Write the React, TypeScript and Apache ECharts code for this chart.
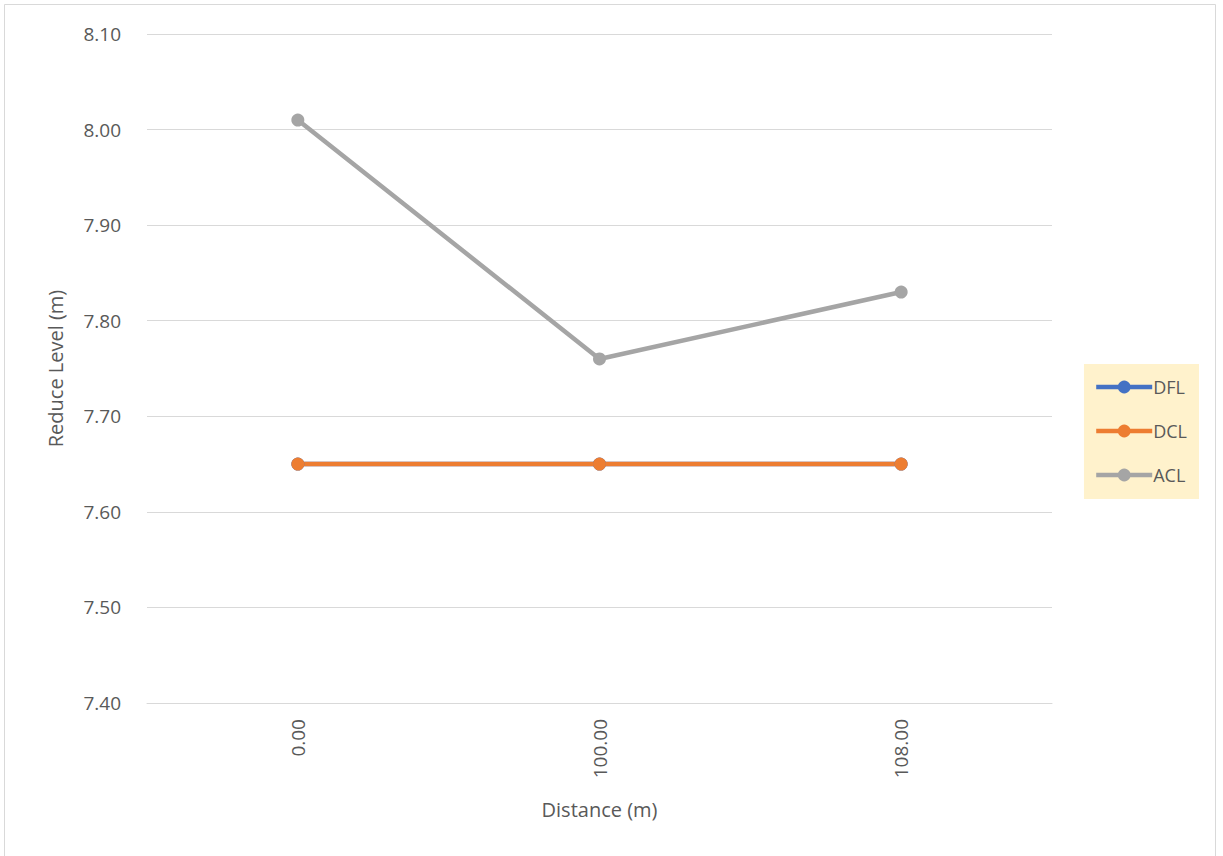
import React, { useEffect, useRef } from "react";
import * as echarts from "echarts";

const categories = ["0.00", "100.00", "108.00"];
const dfl = [7.65, 7.65, 7.65];
const dcl = [7.65, 7.65, 7.65];
const acl = [8.01, 7.76, 7.83];
const seriesNames = ["DFL", "DCL", "ACL"];
const colors = ["#4472C4", "#ED7D31", "#A5A5A5"];

const FONT = "'Open Sans', 'Liberation Sans', sans-serif";

export default function App() {
  const ref = useRef<HTMLDivElement>(null);
  useEffect(() => {
    document.body.style.margin = "0";
    const chart = echarts.init(ref.current!, null, { renderer: "svg" });
    const data = [dfl, dcl, acl];
    chart.setOption({
      animation: false,
      backgroundColor: "#ffffff",
      textStyle: { fontFamily: FONT },
      graphic: [
        {
          type: "rect",
          shape: { x: 4.5, y: 4.5, width: 1211, height: 860 },
          style: { fill: "none", stroke: "#D9D9D9", lineWidth: 1 },
          silent: true,
        },
      ],
      grid: { left: 147, right: 171, top: 34, bottom: 153 },
      legend: {
        orient: "vertical",
        right: 24,
        top: 364,
        backgroundColor: "#FFF2CC",
        padding: [14, 12, 15, 10],
        itemWidth: 56,
        itemHeight: 16,
        itemGap: 26,
        data: seriesNames,
        lineStyle: { width: 4.5 },
        textStyle: { fontFamily: FONT, fontSize: 18, color: "#595959", padding: [0, 0, 0, -4] },
      },
      xAxis: {
        type: "category",
        data: categories,
        boundaryGap: true,
        name: "Distance (m)",
        nameLocation: "middle",
        nameGap: 96,
        nameTextStyle: { fontFamily: FONT, fontSize: 20, color: "#595959" },
        axisLine: { lineStyle: { color: "#D9D9D9", width: 1 } },
        axisTick: { show: false },
        axisLabel: { rotate: 90, fontSize: 19, color: "#595959", fontFamily: FONT, margin: 16 },
      },
      yAxis: {
        type: "value",
        min: 7.4,
        max: 8.1,
        interval: 0.1,
        name: "Reduce Level (m)",
        nameLocation: "middle",
        nameGap: 82,
        nameTextStyle: { fontFamily: FONT, fontSize: 20, color: "#595959" },
        axisLine: { show: false },
        axisTick: { show: false },
        axisLabel: {
          fontSize: 19,
          color: "#595959",
          fontFamily: FONT,
          margin: 26,
          formatter: (v: number) => v.toFixed(2),
        },
        splitLine: { lineStyle: { color: "#D9D9D9", width: 1 } },
      },
      series: seriesNames.map((n, i) => ({
        name: n,
        type: "line",
        data: data[i],
        symbol: "circle",
        symbolSize: 13,
        itemStyle: { color: colors[i] },
        lineStyle: { color: colors[i], width: 4.5 },
      })),
    });
    return () => chart.dispose();
  }, []);
  return <div ref={ref} style={{ width: 1223, height: 856 }} />;
}
